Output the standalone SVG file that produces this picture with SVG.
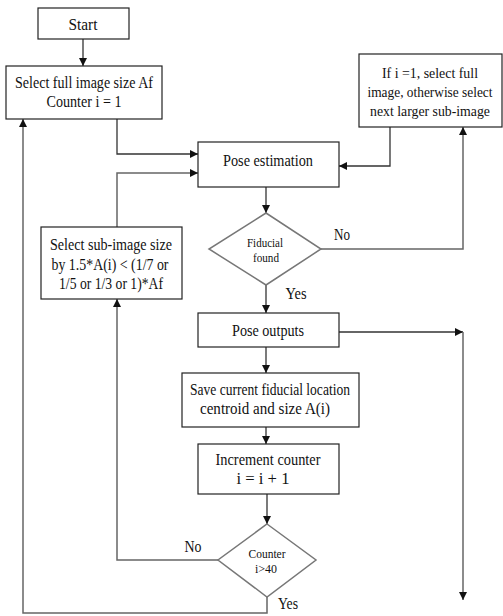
<svg xmlns="http://www.w3.org/2000/svg" width="503" height="616" viewBox="0 0 503 616">
<style>
.box{fill:#fff;stroke:#222;stroke-width:1.2}
.dia{fill:#fff;stroke:#777;stroke-width:1.5}
.t{font-family:"Liberation Serif","Times New Roman",serif;font-size:16.5px;fill:#111;text-anchor:middle}
.u{font-family:"Liberation Serif","Times New Roman",serif;font-size:14.5px;fill:#111;text-anchor:middle}
.s{font-family:"Liberation Serif","Times New Roman",serif;font-size:13.5px;fill:#111;text-anchor:middle}
.ln{fill:none;stroke:#333;stroke-width:1.3}
.lg{fill:none;stroke:#666;stroke-width:1.5}
</style>
<defs>
<marker id="ah" viewBox="0 0 10 10" refX="10" refY="5" markerWidth="8" markerHeight="8" markerUnits="userSpaceOnUse" orient="auto">
<path d="M0,0 L10,5 L0,10 z" fill="#111"/>
</marker>
</defs>
<rect width="503" height="616" fill="#fff"/>
<g id="connectors">
<path class="ln" d="M83,39 V66" marker-end="url(#ah)"/>
<path class="ln" d="M117,119 V154 H198" marker-end="url(#ah)"/>
<path class="lg" d="M117,227 V173 H198" marker-end="url(#ah)"/>
<path class="ln" d="M390,127 V166 H339" marker-end="url(#ah)"/>
<path class="lg" d="M321,249 H463 V127" marker-end="url(#ah)"/>
<path class="ln" d="M266,187 V213" marker-end="url(#ah)"/>
<path class="ln" d="M266,285 V313" marker-end="url(#ah)"/>
<path class="ln" d="M339,332 H463" marker-end="url(#ah)"/>
<path class="lg" d="M463,332 V600" marker-end="url(#ah)"/>
<path class="ln" d="M266,347 V373" marker-end="url(#ah)"/>
<path class="ln" d="M266,427 V444" marker-end="url(#ah)"/>
<path class="ln" d="M267,494 V524" marker-end="url(#ah)"/>
<path class="lg" d="M218,560 H117 V299" marker-end="url(#ah)"/>
<path class="lg" d="M267,597 V613 H23 V119" marker-end="url(#ah)"/>
<text class="t" x="342" y="240" textLength="16" lengthAdjust="spacingAndGlyphs">No</text>
<text class="t" x="296" y="299" textLength="21" lengthAdjust="spacingAndGlyphs">Yes</text>
<text class="t" x="193" y="552" textLength="17" lengthAdjust="spacingAndGlyphs">No</text>
<text class="t" x="288" y="609" textLength="20" lengthAdjust="spacingAndGlyphs">Yes</text>
</g>
<g id="start">
<rect class="box" x="38" y="8" width="91" height="31"/>
<text class="t" x="83" y="30" textLength="29" lengthAdjust="spacingAndGlyphs">Start</text>
</g>
<g id="select-full">
<rect class="box" x="6" y="66" width="156" height="53"/>
<text class="t" x="84" y="88" textLength="138" lengthAdjust="spacingAndGlyphs">Select full image size Af</text>
<text class="t" x="84" y="107" textLength="75" lengthAdjust="spacingAndGlyphs">Counter i = 1</text>
</g>
<g id="if-box">
<rect class="box" x="359" y="54" width="143" height="73"/>
<text class="u" x="430" y="78" textLength="96" lengthAdjust="spacingAndGlyphs">If i =1, select full</text>
<text class="u" x="430" y="97" textLength="125" lengthAdjust="spacingAndGlyphs">image, otherwise select</text>
<text class="u" x="430" y="116" textLength="120" lengthAdjust="spacingAndGlyphs">next larger sub-image</text>
</g>
<g id="pose-estimation">
<rect class="box" x="198" y="142" width="141" height="45"/>
<text class="t" x="268" y="166" textLength="90" lengthAdjust="spacingAndGlyphs">Pose estimation</text>
</g>
<g id="fiducial-found">
<polygon class="dia" points="266,213 321,249 266,285 209,249"/>
<text class="s" x="265" y="247" textLength="36" lengthAdjust="spacingAndGlyphs">Fiducial</text>
<text class="s" x="266" y="262" textLength="26" lengthAdjust="spacingAndGlyphs">found</text>
</g>
<g id="select-sub">
<rect class="box" x="41" y="227" width="141" height="72"/>
<text class="t" x="111" y="250" textLength="122" lengthAdjust="spacingAndGlyphs">Select sub-image size</text>
<text class="t" x="110" y="270" textLength="117" lengthAdjust="spacingAndGlyphs">by 1.5*A(i) &lt; (1/7 or</text>
<text class="t" x="111" y="289" textLength="104" lengthAdjust="spacingAndGlyphs">1/5 or 1/3 or 1)*Af</text>
</g>
<g id="pose-outputs">
<rect class="box" x="198" y="313" width="141" height="34"/>
<text class="t" x="268" y="336" textLength="72" lengthAdjust="spacingAndGlyphs">Pose outputs</text>
</g>
<g id="save-current">
<rect class="box" x="182" y="373" width="177" height="54"/>
<text class="t" x="270" y="395" textLength="160" lengthAdjust="spacingAndGlyphs">Save current fiducial location</text>
<text class="t" x="265" y="414" textLength="130" lengthAdjust="spacingAndGlyphs">centroid and size A(i)</text>
</g>
<g id="increment">
<rect class="box" x="198" y="444" width="141" height="50"/>
<text class="t" x="268" y="465" textLength="105" lengthAdjust="spacingAndGlyphs">Increment counter</text>
<text class="t" x="263" y="484" textLength="53" lengthAdjust="spacingAndGlyphs">i = i + 1</text>
</g>
<g id="counter">
<polygon class="dia" points="267,524 316,560 267,597 218,560"/>
<text class="s" x="267" y="558" textLength="37" lengthAdjust="spacingAndGlyphs">Counter</text>
<text class="s" x="266" y="573" textLength="22" lengthAdjust="spacingAndGlyphs">i&gt;40</text>
</g>
</svg>
